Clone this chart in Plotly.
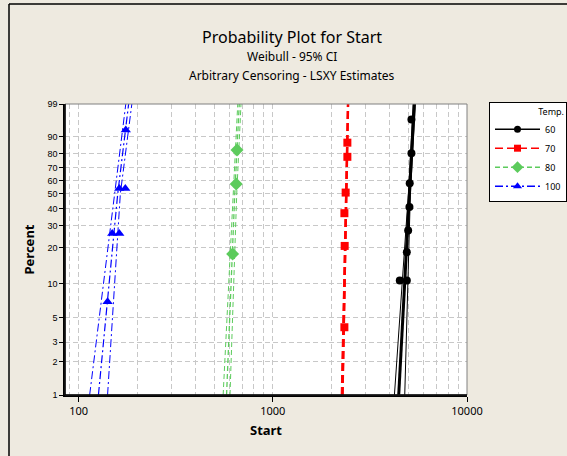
import math
import plotly.graph_objects as go

# ---------------- data ----------------
temps = ["60", "70", "80", "100"]

# observed points (Start, Percent)
pts_60_x = [5175, 5175, 5070, 5053, 4977, 4899, 4507, 4899]
pts_60_p = [96.4, 80.4, 58.0, 41.0, 27.4, 18.4, 10.6, 10.6]

pts_70_x = [2421, 2421, 2372, 2337, 2345, 2337]
pts_70_p = [87.0, 78.0, 51.0, 37.0, 20.7, 4.1]

pts_80_x = [654, 648, 621]
pts_80_p = [82.6, 57.5, 17.8]

pts_100_x = [175, 162, 174, 149, 162, 141]
pts_100_p = [93.0, 54.0, 54.0, 26.0, 26.0, 6.9]

# fitted line and 95% CI, Start values at these percents
line_pct = [1, 50, 99]
fit_60 = [4450, 5050, 5350]
lo_60 = [4230, 4990, 5290]
hi_60 = [4780, 5110, 5420]

fit_70 = [2280, 2378, 2440]
lo_70 = [2250, 2360, 2425]
hi_70 = [2305, 2398, 2456]

fit_80 = [578, 637, 672]
lo_80 = [555, 622, 660]
hi_80 = [602, 652, 686]

fit_100 = [126.5, 159, 181]
lo_100 = [114, 154, 175]
hi_100 = [141, 164, 188]

y_ticks = [1, 2, 3, 5, 10, 20, 30, 40, 50, 60, 70, 80, 90, 99]
x_ticks = [100, 1000, 10000]


def wz(p):
    return math.log(-math.log(1 - p / 100.0))


def wzs(ps):
    return [wz(p) for p in ps]


series = [
    dict(name=temps[0], px=pts_60_x, pp=pts_60_p, fit=fit_60, lo=lo_60, hi=hi_60,
         color="#000000", dash="solid", fitw=3, ciw=1, sym="circle", msize=8),
    dict(name=temps[1], px=pts_70_x, pp=pts_70_p, fit=fit_70, lo=lo_70, hi=hi_70,
         color="#FF0000", dash="8px,4px", fitw=2.5, ciw=1, sym="square", msize=8),
    dict(name=temps[2], px=pts_80_x, pp=pts_80_p, fit=fit_80, lo=lo_80, hi=hi_80,
         color="#5CCB5C", dash="5px,3px", fitw=1.3, ciw=1, sym="diamond", msize=10),
    dict(name=temps[3], px=pts_100_x, pp=pts_100_p, fit=fit_100, lo=lo_100, hi=hi_100,
         color="#0000FF", dash="8px,3px,2px,3px", fitw=1.2, ciw=1, sym="triangle-up", msize=9),
]

fig = go.Figure()
for s in series:
    for arr, w in ((s["lo"], s["ciw"]), (s["hi"], s["ciw"]), (s["fit"], s["fitw"])):
        fig.add_trace(go.Scatter(
            x=arr, y=wzs(line_pct), mode="lines",
            line=dict(color=s["color"], width=w, dash=s["dash"]),
            showlegend=False, hoverinfo="skip"))
    fig.add_trace(go.Scatter(
        x=s["px"], y=wzs(s["pp"]), mode="markers",
        marker=dict(symbol=s["sym"], size=s["msize"], color=s["color"]),
        showlegend=False))
    # legend entry
    fig.add_trace(go.Scatter(
        x=[None], y=[None], mode="lines+markers", name=s["name"],
        line=dict(color=s["color"], width=1.5, dash=s["dash"]),
        marker=dict(symbol=s["sym"], size=s["msize"] - 1, color=s["color"])))

grid_col = "#C8C8C8"
minor_vals = []
for dec in (10, 100, 1000):
    for k in range(2, 10):
        minor_vals.append(k * dec)

fig.update_xaxes(
    type="log", range=[1.93, 4.0],
    tickvals=x_ticks, ticktext=[str(v) for v in x_ticks],
    ticks="outside", ticklen=5, tickcolor="#000000",
    showgrid=True, gridcolor=grid_col, griddash="5px,3px", gridwidth=1,
    minor=dict(tickvals=minor_vals, showgrid=True, gridcolor=grid_col,
               griddash="5px,3px", ticklen=0),
    showline=True, linecolor="#000000", linewidth=1.5,
    zeroline=False,
    tickfont=dict(family="Noto Sans", size=11, color="#000000"),
    title=dict(text="Start", font=dict(family="Noto Sans", size=13, color="#000000", weight="bold"),
               standoff=9),
)
fig.update_yaxes(
    range=[wz(1), wz(99)],
    tickvals=wzs(y_ticks), ticktext=[str(v) for v in y_ticks],
    ticks="outside", ticklen=4, tickcolor="#000000",
    showgrid=True, gridcolor=grid_col, griddash="5px,3px", gridwidth=1,
    showline=True, linecolor="#000000", linewidth=1.5,
    zeroline=False,
    tickfont=dict(family="Liberation Sans", size=9, color="#000000"),
    title=dict(text="Percent", font=dict(family="Noto Sans", size=13, color="#000000", weight="bold"),
               standoff=10),
)

W, H = 567, 456
L, R, T, B = 65, 100, 104, 61
pw, ph = W - L - R, H - T - B


def px2x(px):
    return (px - L) / pw


def py2y(py):
    return (H - B - py) / ph


fig.add_shape(type="rect", xref="paper", yref="paper", x0=0, x1=1, y0=0, y1=1,
              line=dict(color="#808080", width=1), layer="above")
fig.add_shape(type="line", xref="paper", yref="paper", x0=0, x1=0, y0=0, y1=1,
              line=dict(color="#000000", width=1.5), layer="above")
fig.add_shape(type="line", xref="paper", yref="paper", x0=0, x1=1, y0=0, y1=0,
              line=dict(color="#000000", width=1.5), layer="above")
# outer window frame (top + left)
fig.add_shape(type="line", xref="paper", yref="paper", x0=px2x(9), x1=px2x(W + 5),
              y0=py2y(4), y1=py2y(4), line=dict(color="#000000", width=1.5))
fig.add_shape(type="line", xref="paper", yref="paper", x0=px2x(9), x1=px2x(9),
              y0=py2y(4), y1=py2y(H + 5), line=dict(color="#000000", width=1.5))

fig.add_annotation(text="Probability Plot for Start", xref="paper", yref="paper",
                   x=px2x(292), y=py2y(37), xanchor="center", yanchor="middle",
                   showarrow=False, font=dict(family="Noto Sans", size=16, color="#000000"))
fig.add_annotation(text="Weibull - 95% CI", xref="paper", yref="paper",
                   x=px2x(292), y=py2y(57), xanchor="center", yanchor="middle",
                   showarrow=False, font=dict(family="Noto Sans", size=12, color="#000000"))
fig.add_annotation(text="Arbitrary Censoring - LSXY Estimates", xref="paper", yref="paper",
                   x=px2x(292), y=py2y(76), xanchor="center", yanchor="middle",
                   showarrow=False, font=dict(family="Noto Sans", size=12, color="#000000"))

fig.update_layout(
    width=W, height=H,
    margin=dict(l=L, r=R, t=T, b=B, autoexpand=False),
    paper_bgcolor="#EEEAE0", plot_bgcolor="#FFFFFF",
    font=dict(family="Noto Sans", color="#000000"),
    legend=dict(
        x=px2x(489), y=py2y(102), xanchor="left", yanchor="top",
        bgcolor="#FFFFFF", bordercolor="#000000", borderwidth=1,
        font=dict(family="Noto Sans", size=9, color="#000000"),
        title=dict(text="Temp.", side="top right", font=dict(family="Noto Sans", size=9)),
        itemwidth=45, tracegroupgap=0,
    ),
    showlegend=True,
)

fig.write_html("out.html",
               config={"displayModeBar": False},
               post_script="document.body.style.margin='0px';document.body.style.overflow='hidden';")
